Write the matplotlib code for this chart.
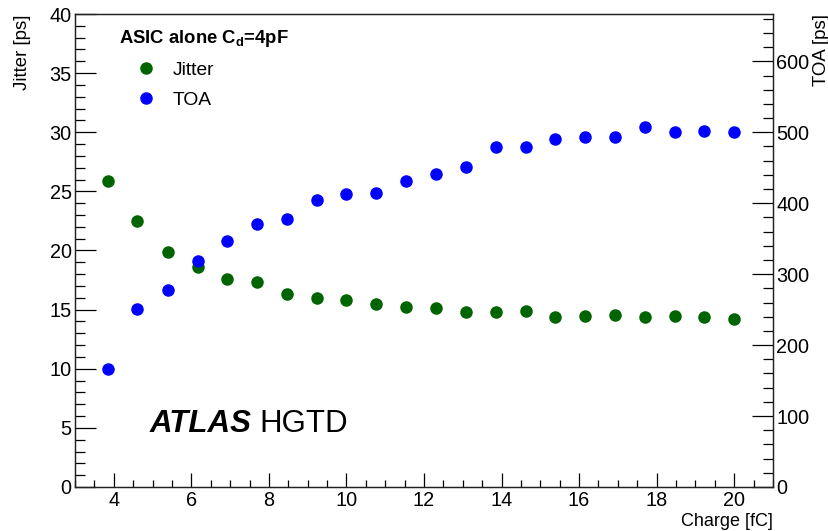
import matplotlib
matplotlib.use("Agg")
import matplotlib.pyplot as plt
from matplotlib.ticker import MultipleLocator

charge = [3.84, 4.61, 5.39, 6.16, 6.92, 7.69, 8.46, 9.24, 10.0, 10.77, 11.54,
          12.31, 13.08, 13.85, 14.62, 15.39, 16.16, 16.93, 17.70, 18.47, 19.23, 20.0]
jitter = [25.9, 22.5, 19.9, 18.6, 17.6, 17.3, 16.3, 16.0, 15.8, 15.5, 15.2,
          15.1, 14.8, 14.8, 14.9, 14.4, 14.5, 14.55, 14.4, 14.5, 14.4, 14.2]
toa = [166, 251, 278, 319, 347, 370, 378, 404, 413, 415, 432,
       441, 451, 479, 479, 491, 493, 493, 507, 500, 502, 500]

plt.rcParams['font.family'] = ['Liberation Sans', 'DejaVu Sans']

fig = plt.figure(figsize=(8.29, 5.31), dpi=100)
ax = fig.add_axes([0.0905, 0.0829, 0.9324 - 0.0905, 0.9736 - 0.0829])
ax2 = ax.twinx()

green = '#006400'
blue = '#0000ff'

hj, = ax.plot(charge, jitter, 'o', color=green, markersize=8, linestyle='none', label='Jitter')
ht, = ax2.plot(charge, toa, 'o', color=blue, markersize=8, linestyle='none', label='TOA')

ax.set_xlim(3, 21)
ax.set_ylim(0, 40)
ax2.set_ylim(0, 666.7)

ax.xaxis.set_major_locator(MultipleLocator(2))
ax.xaxis.set_minor_locator(MultipleLocator(0.5))
ax.yaxis.set_major_locator(MultipleLocator(5))
ax.yaxis.set_minor_locator(MultipleLocator(1))
ax2.yaxis.set_major_locator(MultipleLocator(100))
ax2.yaxis.set_minor_locator(MultipleLocator(20))

fs = 14.3
ax.tick_params(axis='x', which='major', direction='in', length=10, width=0.9, labelsize=fs, pad=3, top=False)
ax.tick_params(axis='x', which='minor', direction='in', length=5, width=0.9, top=False)
ax.tick_params(axis='y', which='major', direction='in', length=15, width=0.9, labelsize=fs, pad=2.5, right=False)
ax.tick_params(axis='y', which='minor', direction='in', length=7.5, width=0.9, right=False)
ax2.tick_params(axis='y', which='major', direction='in', length=15, width=0.9, labelsize=fs, pad=2.5)
ax2.tick_params(axis='y', which='minor', direction='in', length=7.5, width=0.9)

for a in (ax, ax2):
    for s in a.spines.values():
        s.set_linewidth(0.9)
        s.set_color('#222222')

lfs = 13.0
fig.text(0.0274, 0.9736, 'Jitter [ps]', rotation=90, ha='center', va='top', fontsize=13.4)
fig.text(0.991, 0.9736, 'TOA [ps]', rotation=90, ha='center', va='top', fontsize=13.4)
fig.text(0.9324, 0.001, 'Charge [fC]', ha='right', va='bottom', fontsize=lfs)

ax.text(0.063, 0.939, r'ASIC alone C$_\mathregular{d}$=4pF', transform=ax.transAxes,
        fontsize=13.3, fontweight='bold', ha='left', va='baseline')
ax.text(0.1075, 0.116, 'ATLAS', transform=ax.transAxes, fontsize=22.5,
        fontweight='bold', fontstyle='italic', ha='left', va='baseline')
ax.text(0.2636, 0.116, 'HGTD', transform=ax.transAxes, fontsize=22.5,
        ha='left', va='baseline')

leg = ax.legend(handles=[hj, ht], loc='upper left', bbox_to_anchor=(0.0846, 0.8996),
                frameon=False, fontsize=13.9, handletextpad=0.8, labelspacing=0.63,
                handlelength=1.2, borderaxespad=0, borderpad=0)

fig.savefig('out.png', dpi=100)
